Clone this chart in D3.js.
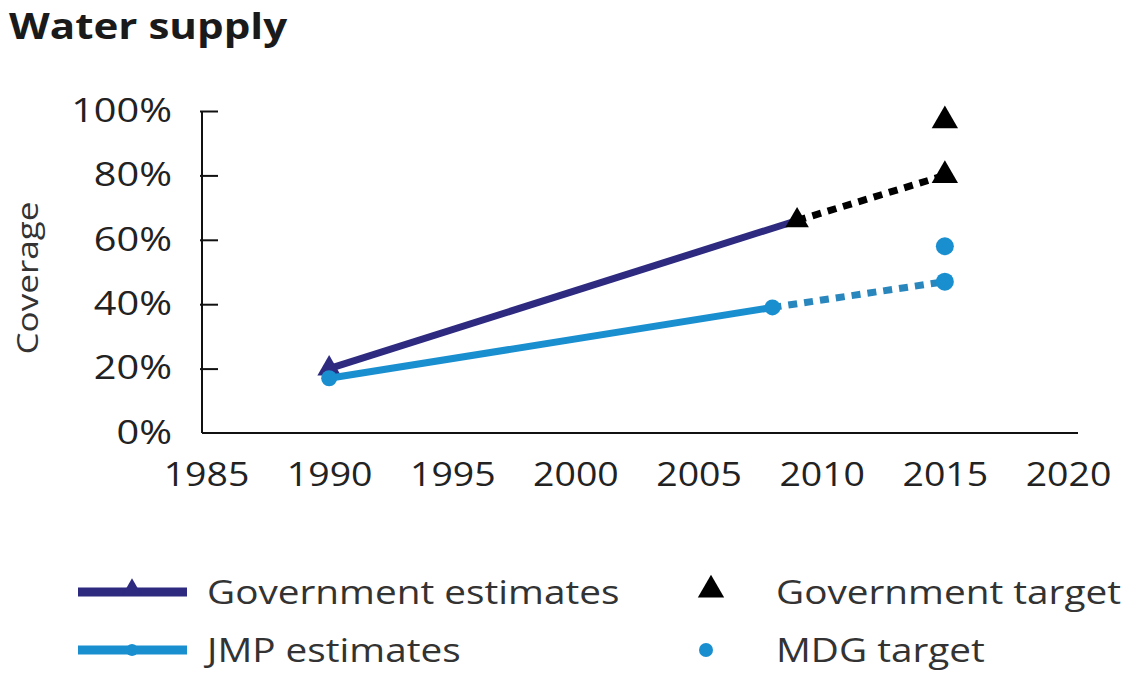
<!DOCTYPE html>
<html>
<head>
<meta charset="utf-8">
<script src="https://d3js.org/d3.v7.min.js"></script>
<style>
  body { margin: 0; background: #fff; }
  text { font-family: "Open Sans", sans-serif; fill: #222; }
</style>
</head>
<body>
<script>
// data
var govYears = [1990, 2009];
var govValues = [20, 66];
var govProjYears = [2009, 2015];
var govProjValues = [66, 80];
var govTargetYears = [2015, 2015];
var govTargetValues = [80, 97];

var jmpYears = [1990, 2008];
var jmpValues = [17, 39];
var jmpProjYears = [2008, 2015];
var jmpProjValues = [39, 47];
var mdgYears = [2015];
var mdgValues = [58];

var xTicks = [1985, 1990, 1995, 2000, 2005, 2010, 2015, 2020];
var yTicks = [0, 20, 40, 60, 80, 100];

var navy = "#2d2a80", blue = "#1a8fd0", blueDash = "#2a87bd";

var width = 1130, height = 673;
var svg = d3.select("body").append("svg")
    .attr("width", width)
    .attr("height", height);

var x = d3.scaleLinear().domain([1985, 2020]).range([206, 1068]);
var y = d3.scaleLinear().domain([0, 100]).range([433, 111]);

function zip(xs, ys) { return xs.map(function(d, i) { return [d, ys[i]]; }); }

var line = d3.line()
    .x(function(d) { return x(d[0]); })
    .y(function(d) { return y(d[1]); });

var tri = d3.symbol().type(d3.symbolTriangle);

// title
svg.append("text")
    .attr("class", "stretch")
    .attr("x", 9).attr("y", 39)
    .style("font-size", "36px")
    .style("font-weight", "bold")
    .style("fill", "#1a1a1a")
    .text("Water supply");

// y axis
var yAxis = svg.append("g")
    .attr("transform", "translate(202,0)")
    .call(d3.axisLeft(y).tickValues(yTicks).tickSize(-16).tickPadding(30)
        .tickFormat(function(d) { return d + "%"; }));
yAxis.select(".domain").attr("d", "M0," + y(100) + "V" + y(0)).attr("stroke", "#111").attr("stroke-width", 2);
yAxis.selectAll(".tick line").attr("stroke", "#111").attr("stroke-width", 2).attr("x1", -2);
yAxis.selectAll(".tick text").attr("class", "stretch wide").style("font-size", "32px").style("fill", "#222");
yAxis.selectAll(".tick").filter(function(d) { return d === 0; }).select("line").remove();

// x axis
var xAxis = svg.append("g")
    .attr("transform", "translate(0,433)")
    .call(d3.axisBottom(x).tickValues(xTicks).tickSize(0).tickPadding(30)
        .tickFormat(d3.format("d")));
xAxis.select(".domain").attr("d", "M202,0H1078").attr("stroke", "#111").attr("stroke-width", 2);
xAxis.selectAll(".tick text").attr("class", "stretch").style("font-size", "32px").style("fill", "#222");

// y label
svg.append("text")
    .attr("class", "stretch")
    .attr("transform", "translate(38,278) rotate(-90)")
    .attr("text-anchor", "middle")
    .style("font-size", "30px")
    .style("fill", "#333")
    .text("Coverage");

// government estimates
svg.append("path")
    .datum(zip(govYears, govValues))
    .attr("d", line)
    .attr("fill", "none")
    .attr("stroke", navy)
    .attr("stroke-width", 7);

svg.append("path")
    .datum(zip(govProjYears, govProjValues))
    .attr("d", line)
    .attr("fill", "none")
    .attr("stroke", "#000")
    .attr("stroke-width", 7)
    .attr("stroke-dasharray", "9,7");

svg.selectAll(".govpt")
    .data(zip(govYears, govValues))
    .enter().append("path")
    .attr("transform", function(d) { return "translate(" + x(d[0]) + "," + y(d[1]) + ")"; })
    .attr("d", tri.size(240))
    .attr("fill", function(d, i) { return i === 0 ? navy : "#000"; });

// JMP estimates
svg.append("path")
    .datum(zip(jmpYears, jmpValues))
    .attr("d", line)
    .attr("fill", "none")
    .attr("stroke", blue)
    .attr("stroke-width", 7);

svg.append("path")
    .datum(zip(jmpProjYears, jmpProjValues))
    .attr("d", line)
    .attr("fill", "none")
    .attr("stroke", blueDash)
    .attr("stroke-width", 7)
    .attr("stroke-dasharray", "9,7");

svg.selectAll(".jmppt")
    .data(zip(jmpYears, jmpValues))
    .enter().append("circle")
    .attr("cx", function(d) { return x(d[0]); })
    .attr("cy", function(d) { return y(d[1]); })
    .attr("r", 8)
    .attr("fill", blue);

// targets
svg.selectAll(".gt")
    .data(zip(govTargetYears, govTargetValues))
    .enter().append("path")
    .attr("transform", function(d) { return "translate(" + x(d[0]) + "," + y(d[1]) + ")"; })
    .attr("d", tri.size(300))
    .attr("fill", "#000");

svg.selectAll(".mdg")
    .data(zip(jmpProjYears.slice(1), jmpProjValues.slice(1)).concat(zip(mdgYears, mdgValues)))
    .enter().append("circle")
    .attr("cx", function(d) { return x(d[0]); })
    .attr("cy", function(d) { return y(d[1]); })
    .attr("r", 9)
    .attr("fill", blue);

// legend
var legend = svg.append("g");
legend.append("line").attr("x1", 78).attr("x2", 187).attr("y1", 592).attr("y2", 592)
    .attr("stroke", navy).attr("stroke-width", 9);
legend.append("path").attr("transform", "translate(132,590)").attr("d", tri.size(180)).attr("fill", navy);
legend.append("text").attr("class", "stretch leg").attr("x", 207).attr("y", 604).style("font-size", "32px").style("fill", "#333").text("Government estimates");

legend.append("line").attr("x1", 78).attr("x2", 187).attr("y1", 650).attr("y2", 650)
    .attr("stroke", blue).attr("stroke-width", 9);
legend.append("circle").attr("cx", 132).attr("cy", 650).attr("r", 6).attr("fill", blue);
legend.append("text").attr("class", "stretch leg").attr("x", 207).attr("y", 662).style("font-size", "32px").style("fill", "#333").text("JMP estimates");

legend.append("path").attr("transform", "translate(711,590)").attr("d", tri.size(300)).attr("fill", "#000");
legend.append("text").attr("class", "stretch leg").attr("x", 776).attr("y", 604).style("font-size", "32px").style("fill", "#333").text("Government target");

legend.append("circle").attr("cx", 706).attr("cy", 650).attr("r", 7).attr("fill", blue);
legend.append("text").attr("class", "stretch leg").attr("x", 776).attr("y", 662).style("font-size", "32px").style("fill", "#333").text("MDG target");

// the source picture is stretched horizontally
svg.selectAll("text.stretch").each(function() {
    var w = this.getComputedTextLength();
    var s = d3.select(this);
    var k = s.classed("wide") ? 1.24 : s.classed("leg") ? 1.21 : 1.17;
    s.attr("textLength", w * k).attr("lengthAdjust", "spacingAndGlyphs");
});
</script>
</body>
</html>
